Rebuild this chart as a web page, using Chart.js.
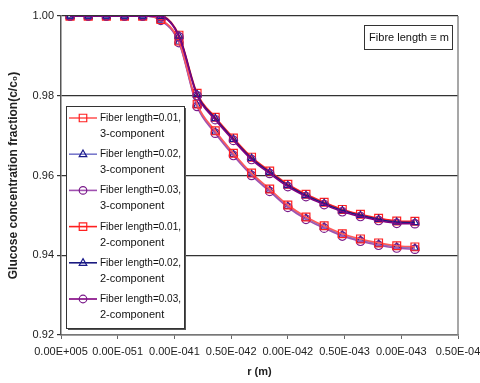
<!DOCTYPE html>
<html><head><meta charset="utf-8">
<script src="https://cdn.jsdelivr.net/npm/chart.js@4.4.1/dist/chart.umd.min.js"></script>
<style>html,body{margin:0;padding:0;background:#fff}#wrap{width:480px;height:383px}</style>
</head><body><div id="wrap"><canvas id="c" width="480" height="383"></canvas></div>
<script>
const rValues = [0.8e-5, 2.4e-5, 4.0e-5, 5.6e-5, 7.2e-5, 8.8e-5, 10.4e-5, 12.0e-5, 13.6e-5, 15.2e-5,
                 16.8e-5, 18.4e-5, 20.0e-5, 21.6e-5, 23.2e-5, 24.8e-5, 26.4e-5, 28.0e-5, 29.6e-5, 31.2e-5];
const xTickValues = [0, 0.5e-4, 1.0e-4, 1.5e-4, 2.0e-4, 2.5e-4, 3.0e-4, 3.5e-4];
const xTickLabels = ["0.00E+005", "0.00E-051", "0.00E-041", "0.50E-042", "0.00E-042", "0.50E-043", "0.00E-043", "0.50E-04"];
const yTickValues = [0.92, 0.94, 0.96, 0.98, 1.00];

const fl001_3comp = [1, 1, 1, 1, 1, 0.9991, 0.9937, 0.9779, 0.9712, 0.9656, 0.9606, 0.9566, 0.9526, 0.9496, 0.9474, 0.9454, 0.9441, 0.9431, 0.9424, 0.9421];
const fl002_3comp = [1, 1, 1, 1, 1, 0.9990, 0.9935, 0.9776, 0.9709, 0.9653, 0.9603, 0.9563, 0.9523, 0.9493, 0.9471, 0.9451, 0.9438, 0.9428, 0.9421, 0.9418];
const fl003_3comp = [1, 1, 1, 1, 1, 0.9989, 0.9933, 0.9773, 0.9706, 0.9650, 0.9600, 0.9560, 0.9520, 0.9490, 0.9468, 0.9448, 0.9435, 0.9425, 0.9418, 0.9415];
const fl001_2comp = [1, 1, 1, 1, 1, 1.0000, 0.9952, 0.9806, 0.9746, 0.9694, 0.9646, 0.9611, 0.9578, 0.9553, 0.9533, 0.9515, 0.9503, 0.9493, 0.9486, 0.9485];
const fl002_2comp = [1, 1, 1, 1, 1, 0.9999, 0.9950, 0.9803, 0.9743, 0.9691, 0.9643, 0.9608, 0.9575, 0.9550, 0.9530, 0.9512, 0.9500, 0.9490, 0.9483, 0.9482];
const fl003_2comp = [1, 1, 1, 1, 1, 0.9998, 0.9948, 0.9800, 0.9740, 0.9688, 0.9640, 0.9605, 0.9572, 0.9547, 0.9527, 0.9509, 0.9497, 0.9487, 0.9480, 0.9479];

const seriesNames = [
  ["Fiber length=0.01,", "3-component"],
  ["Fiber length=0.02,", "3-component"],
  ["Fiber length=0.03,", "3-component"],
  ["Fiber length=0.01,", "2-component"],
  ["Fiber length=0.02,", "2-component"],
  ["Fiber length=0.03,", "2-component"]
];
const noteText = "Fibre length \u2261 m";
const yTitle = "Glucose concentration fraction(c/c\u2080)";
const xTitle = "r (m)";

const FONT = "'Liberation Sans', Arial, sans-serif";
function pts(arr) { return rValues.map((r, i) => ({x: r, y: arr[i]})); }

const styles = [
  {line: '#ff5a5a', mark: '#ff2020', shape: 'rect', order: 4},
  {line: '#7a7acc', mark: '#1a1a8a', shape: 'triangle', order: 6},
  {line: '#a050b0', mark: '#7a1a8a', shape: 'circle', order: 5},
  {line: '#ff2020', mark: '#ff2020', shape: 'rect', order: 3},
  {line: '#1a1a80', mark: '#1a1a8a', shape: 'triangle', order: 2},
  {line: '#800080', mark: '#7a1a8a', shape: 'circle', order: 1}
];
const seriesData = [fl001_3comp, fl002_3comp, fl003_3comp, fl001_2comp, fl002_2comp, fl003_2comp];

const datasets = seriesData.map((arr, k) => ({
  label: seriesNames[k].join(' '),
  data: pts(arr),
  borderColor: styles[k].line,
  borderWidth: 1.6,
  pointStyle: styles[k].shape,
  pointRadius: styles[k].shape === 'rect' ? 5.5 : 4.2,
  pointBorderColor: styles[k].mark,
  pointBackgroundColor: 'rgba(255,255,255,0)',
  pointBorderWidth: 1.2,
  cubicInterpolationMode: 'monotone',
  fill: false,
  order: styles[k].order
}));

function drawMarker(ctx, shape, x, y, r, color) {
  ctx.save();
  ctx.strokeStyle = color; ctx.lineWidth = 1.2;
  ctx.beginPath();
  if (shape === 'rect') {
    ctx.rect(x - r * 0.75, y - r * 0.75, r * 1.5, r * 1.5);
  } else if (shape === 'triangle') {
    ctx.moveTo(x, y - r); ctx.lineTo(x + r * 0.9, y + r * 0.6); ctx.lineTo(x - r * 0.9, y + r * 0.6); ctx.closePath();
  } else {
    ctx.arc(x, y, r * 0.9, 0, Math.PI * 2);
  }
  ctx.stroke();
  ctx.restore();
}

const decor = {
  id: 'decor',
  afterDraw(chart) {
    const ctx = chart.ctx, a = chart.chartArea;
    ctx.save();
    // right border of plot
    ctx.strokeStyle = '#8a8a8a'; ctx.lineWidth = 1.5;
    ctx.beginPath(); ctx.moveTo(a.right, a.top); ctx.lineTo(a.right, a.bottom); ctx.stroke();

    // legend box
    const lx = a.left + 5, ly = a.top + 90, lw = 118, lh = 222;
    ctx.fillStyle = '#555';
    ctx.fillRect(lx + 2, ly + 2, lw, lh);
    ctx.fillStyle = '#fff';
    ctx.fillRect(lx, ly, lw, lh);
    ctx.strokeStyle = '#333'; ctx.lineWidth = 1;
    ctx.strokeRect(lx + 0.5, ly + 0.5, lw, lh);
    ctx.font = '11px ' + FONT;
    ctx.textBaseline = 'middle';
    ctx.textAlign = 'left';
    chart.data.datasets.forEach((ds, k) => {
      const y1 = ly + 12 + k * 36.2;
      ctx.strokeStyle = styles[k].line; ctx.lineWidth = 1.6;
      ctx.beginPath(); ctx.moveTo(lx + 3, y1); ctx.lineTo(lx + 31, y1); ctx.stroke();
      drawMarker(ctx, styles[k].shape, lx + 17, y1, styles[k].shape === 'rect' ? 5 : 4.2, styles[k].mark);
      ctx.fillStyle = '#111';
      ctx.fillText(seriesNames[k][0], lx + 34, y1, 81);
      ctx.fillText(seriesNames[k][1], lx + 34, y1 + 16, 81);
    });

    // note box
    const nx = 364, ny = 25, nw = 88, nh = 24;
    ctx.fillStyle = '#fff'; ctx.fillRect(nx, ny, nw, nh);
    ctx.strokeStyle = '#333'; ctx.lineWidth = 1;
    ctx.strokeRect(nx + 0.5, ny + 0.5, nw, nh);
    ctx.font = '11px ' + FONT; ctx.fillStyle = '#111'; ctx.textAlign = 'center';
    ctx.fillText(noteText, nx + nw / 2 + 1, ny + nh / 2 + 1);
    ctx.restore();
  }
};

new Chart(document.getElementById('c'), {
  type: 'line',
  data: {datasets},
  plugins: [decor],
  options: {
    responsive: false,
    animation: false,
    events: [],
    layout: {padding: {top: 16, right: 22, left: 0, bottom: 0}},
    plugins: {legend: {display: false}, tooltip: {enabled: false}},
    scales: {
      x: {
        type: 'linear', min: 0, max: 3.5e-4,
        afterBuildTicks: s => { s.ticks = xTickValues.map(v => ({value: v})); },
        afterFit: s => { s.height = 48; s.paddingRight = 0; s.paddingLeft = 0; },
        grid: {drawOnChartArea: false, color: '#666', tickLength: 4, lineWidth: 1},
        border: {color: '#777', width: 1.5},
        ticks: {
          autoSkip: false, maxRotation: 0, minRotation: 0, padding: 6,
          color: '#222', font: {family: FONT, size: 11},
          callback: (v, i) => xTickLabels[i]
        },
        title: {display: true, text: xTitle, color: '#222', font: {family: FONT, size: 11, weight: 'bold'}, padding: {top: 0, bottom: 4}}
      },
      y: {
        type: 'linear', min: 0.92, max: 1.00,
        afterBuildTicks: s => { s.ticks = yTickValues.map(v => ({value: v})); },
        afterFit: s => { s.width = 61; s.paddingTop = 0; s.paddingBottom = 0; },
        grid: {color: '#333', lineWidth: 1.2, tickLength: 4},
        border: {color: '#555', width: 1.5},
        ticks: {
          padding: 3, color: '#222', font: {family: FONT, size: 11},
          callback: v => Number(v).toFixed(2)
        },
        title: {display: true, text: yTitle, color: '#222', font: {family: FONT, size: 12, weight: 'bold'}, padding: {top: 6, bottom: 0}}
      }
    }
  }
});
</script></body></html>
